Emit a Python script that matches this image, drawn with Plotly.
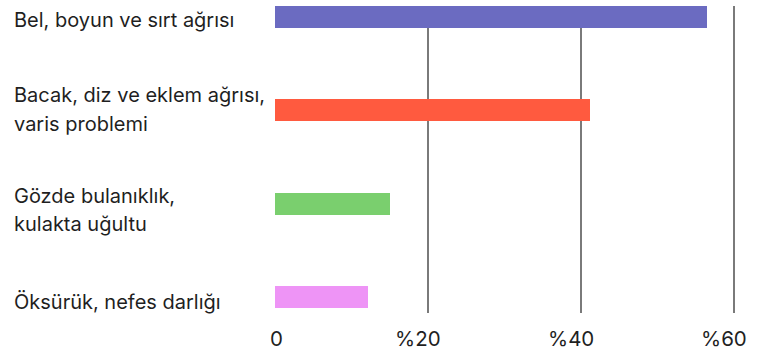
import plotly.graph_objects as go

# Data
categories = [
    ["Bel, boyun ve sırt ağrısı"],
    ["Bacak, diz ve eklem ağrısı,", "varis problemi"],
    ["Gözde bulanıklık,", "kulakta uğultu"],
    ["Öksürük, nefes darlığı"],
]
values = [56.5, 41.2, 15.1, 12.2]
colors = ["#6B6BC1", "#FF5A3F", "#7ACF6E", "#EE94F6"]
tick_vals = [0, 20, 40, 60]
tick_text = ["0", "%20", "%40", "%60"]

positions = list(range(len(values)))

FONT = "Inter"
TEXT_COLOR = "#1f1f1f"

fig = go.Figure()
fig.add_trace(go.Bar(
    x=values,
    y=positions,
    orientation="h",
    marker=dict(color=colors, line=dict(width=0)),
    width=0.236,
    hoverinfo="skip",
))

# category labels (left aligned), per-line vertical pixel offsets
PLOT_L, PLOT_W = 275, 761 - 275 - 12
LABEL_LEFT_PX = 12
line_offsets = {1: [-3], 2: [15, -13.5]}
label_adjust = [0, 0, -7, -2]
annotations = []
for i, lines in enumerate(categories):
    offs = line_offsets[len(lines)]
    for j, line in enumerate(lines):
        annotations.append(dict(
            x=(LABEL_LEFT_PX - PLOT_L) / PLOT_W, xref="paper", xanchor="left",
            y=i, yref="y", yanchor="middle", yshift=offs[j] + label_adjust[i],
            text=line, showarrow=False,
            font=dict(family=FONT, size=20, color=TEXT_COLOR),
        ))

# x tick labels: number part centred on the gridline, "%" prefix hangs left
for v, t in zip(tick_vals, tick_text):
    annotations.append(dict(
        x=v, xref="x", xanchor="center", xshift=(-10 if t.startswith("%") else 1),
        y=0, yref="paper", yanchor="middle", yshift=-25,
        height=18, valign="middle", borderpad=0,
        text=t, showarrow=False,
        font=dict(family=FONT, size=20.5, color=TEXT_COLOR),
    ))

fig.update_layout(
    width=761, height=349,
    margin=dict(l=PLOT_L, r=12, t=6, b=36, autoexpand=False),
    paper_bgcolor="white", plot_bgcolor="white",
    showlegend=False,
    bargap=0,
    annotations=annotations,
    xaxis=dict(
        range=[0, 62], automargin=False,
        tickvals=tick_vals, showticklabels=False,
        showgrid=True, gridcolor="#7a7a7a", gridwidth=2,
        zeroline=False, showline=False, ticks="",
        fixedrange=True,
    ),
    yaxis=dict(
        range=[3.171, -0.118], automargin=False,
        showticklabels=False, showgrid=False, zeroline=False,
        showline=False, ticks="", fixedrange=True,
    ),
)

fig.write_html("out.html")
